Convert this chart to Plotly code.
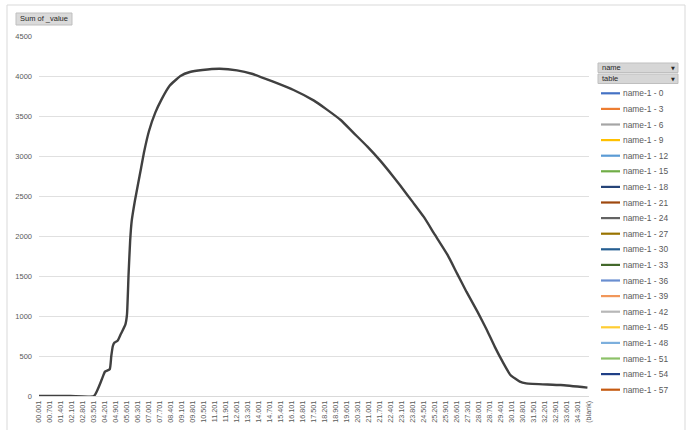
import plotly.graph_objects as go

# ---------------- data ----------------
cat_x = [0.001, 2.001, 3.501, 4.001, 4.201, 4.501, 4.601, 4.701, 4.801, 5.001, 5.201,
         5.501, 5.601, 5.701, 5.801, 5.901, 6.101, 6.301, 6.501, 6.701, 7.001,
         7.401, 7.801, 8.301, 9.001, 9.601, 10.401, 11.501, 12.601, 13.601,
         14.901, 16.201, 17.501, 18.301, 19.201, 20.001, 20.901, 21.701,
         22.601, 23.001, 23.801, 24.501, 25.201, 26.001, 26.601, 27.201,
         27.901, 28.501, 29.001, 29.501, 30.001, 30.601, 31.001, 33.201, 34.901]
values = [0, 0, 0, 209, 304, 334, 500, 625, 667, 690, 771,
          896, 1021, 1521, 1938, 2188, 2438, 2646, 2854, 3063, 3313,
          3542, 3708, 3875, 4000, 4050, 4075, 4090, 4071, 4025,
          3929, 3825, 3692, 3583, 3450, 3292, 3117, 2945,
          2729, 2627, 2420, 2235, 2013, 1763, 1533, 1304,
          1054, 825, 617, 429, 263, 179, 158, 137, 105]
line_series = "name-1 - 24"

tick_labels = ["00.001", "00.701", "01.401", "02.101", "02.801", "03.501", "04.201",
               "04.901", "05.601", "06.301", "07.001", "07.701", "08.401", "09.101",
               "09.801", "10.501", "11.201", "11.901", "12.601", "13.301", "14.001",
               "14.701", "15.401", "16.101", "16.801", "17.501", "18.201", "18.901",
               "19.601", "20.301", "21.001", "21.701", "22.401", "23.101", "23.801",
               "24.501", "25.201", "25.901", "26.601", "27.301", "28.001", "28.701",
               "29.401", "30.101", "30.801", "31.501", "32.201", "32.901", "33.601",
               "34.301", "(blank)"]
blank_pos = 35.001

legend_names = ["name-1 - 0", "name-1 - 3", "name-1 - 6", "name-1 - 9", "name-1 - 12",
                "name-1 - 15", "name-1 - 18", "name-1 - 21", "name-1 - 24", "name-1 - 27",
                "name-1 - 30", "name-1 - 33", "name-1 - 36", "name-1 - 39", "name-1 - 42",
                "name-1 - 45", "name-1 - 48", "name-1 - 51", "name-1 - 54", "name-1 - 57"]
legend_colors = ["#4472C4", "#ED7D31", "#A5A5A5", "#FFC000", "#5B9BD5", "#70AD47",
                 "#264478", "#9E480E", "#636363", "#997300", "#255E91", "#43682B",
                 "#698ED0", "#F1975A", "#B7B7B7", "#FFCD33", "#7CAFDD", "#8CC168",
                 "#1F3F86", "#C55A11"]

# ---------------- layout helpers ----------------
W, H = 690, 430
L, R, T, B = 39, 101, 36, 34
PW, PH = W - L - R, H - T - B


def px(x):
    return (x - L) / PW


def py(y):
    return (H - B - y) / PH


tick_vals = [float(t) if t != "(blank)" else blank_pos for t in tick_labels]

FONT = "Liberation Sans"
TXT = "#595959"

fig = go.Figure()
fig.add_trace(go.Scatter(
    x=cat_x, y=values, mode="lines", name=line_series, showlegend=False,
    line=dict(color="#404040", width=2.4, shape="spline", smoothing=0.45),
    hoverinfo="x+y"))

shapes = []
annotations = []

# chart-area border
shapes.append(dict(type="rect", xref="paper", yref="paper",
                   x0=px(7), x1=px(685), y0=py(440), y1=py(5),
                   line=dict(color="#d9d9d9", width=1), fillcolor="rgba(0,0,0,0)"))

# "Sum of _value" field button
shapes.append(dict(type="rect", xref="paper", yref="paper",
                   x0=px(16), x1=px(72), y0=py(25), y1=py(13),
                   line=dict(color="#bfbfbf", width=1), fillcolor="#dadada"))
annotations.append(dict(xref="paper", yref="paper", x=px(18), y=py(19),
                        text="Sum of _value", showarrow=False, xanchor="left",
                        yanchor="middle", font=dict(family=FONT, size=7.5, color="#262626")))

# "name" / "table" field buttons
for label, y0, y1 in [("name", 63, 72.5), ("table", 74, 83.5)]:
    shapes.append(dict(type="rect", xref="paper", yref="paper",
                       x0=px(598), x1=px(678), y0=py(y1), y1=py(y0),
                       line=dict(color="#bfbfbf", width=1), fillcolor="#d6d6d6"))
    annotations.append(dict(xref="paper", yref="paper", x=px(600), y=py((y0 + y1) / 2),
                            text=label, showarrow=False, xanchor="left", yanchor="middle",
                            font=dict(family=FONT, size=7.5, color="#262626")))
    annotations.append(dict(xref="paper", yref="paper", x=px(673), y=py((y0 + y1) / 2),
                            text="▼", showarrow=False, xanchor="center", yanchor="middle",
                            font=dict(family="DejaVu Sans", size=5, color="#262626")))

# custom legend
for i, (nm, col) in enumerate(zip(legend_names, legend_colors)):
    yy = 93.3 + 15.6 * i
    shapes.append(dict(type="line", xref="paper", yref="paper",
                       x0=px(601), x1=px(620), y0=py(yy), y1=py(yy),
                       line=dict(color=col, width=2.2)))
    annotations.append(dict(xref="paper", yref="paper", x=px(620.5), y=py(yy),
                            text=nm, showarrow=False, xanchor="left", yanchor="middle",
                            font=dict(family=FONT, size=8.4, color=TXT)))

fig.update_layout(
    width=W, height=H,
    margin=dict(l=L, r=R, t=T, b=B, autoexpand=False),
    paper_bgcolor="white", plot_bgcolor="white",
    showlegend=False,
    shapes=shapes, annotations=annotations,
    font=dict(family=FONT, size=8, color=TXT),
    xaxis=dict(type="linear", range=[0.001, blank_pos], tickmode="array",
               tickvals=tick_vals, ticktext=tick_labels, tickangle=-90,
               showgrid=False, zeroline=False, showline=True, linecolor="#d9d9d9",
               linewidth=1, ticks="", ticklabelstandoff=1,
               tickfont=dict(family=FONT, size=7.2, color=TXT), automargin=False),
    yaxis=dict(range=[0, 4500], tickmode="array",
               tickvals=[0, 500, 1000, 1500, 2000, 2500, 3000, 3500, 4000, 4500],
               showgrid=True, gridcolor="#e0e0e0", gridwidth=1, zeroline=False,
               ticks="", ticklabelstandoff=6,
               tickfont=dict(family=FONT, size=7.5, color=TXT), automargin=False),
)

fig.write_html("out.html", config={"displayModeBar": False},
               post_script="document.body.style.margin='0';document.body.style.overflow='hidden';")
